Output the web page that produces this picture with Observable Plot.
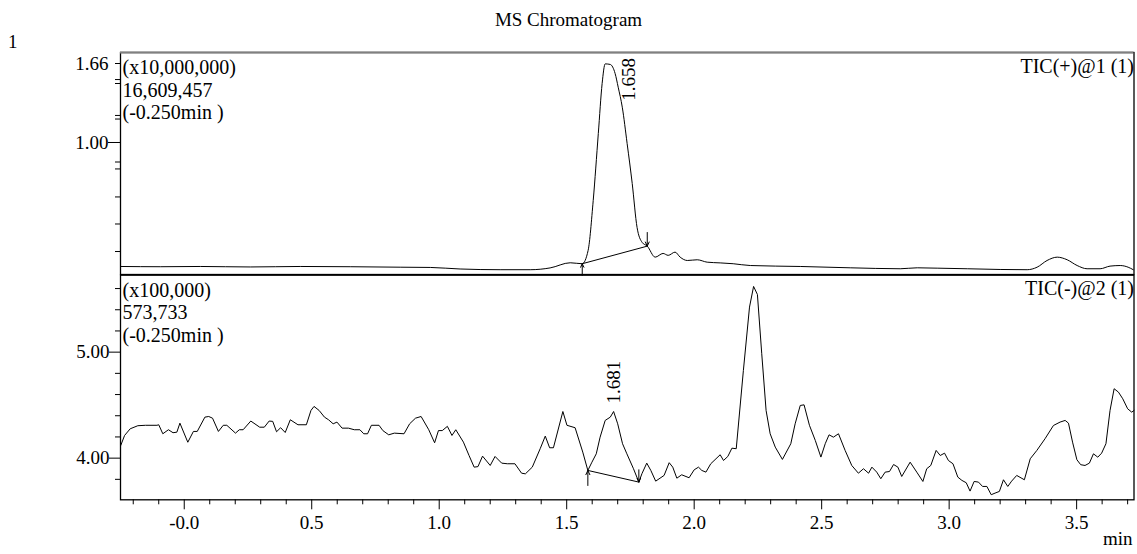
<!DOCTYPE html>
<html><head><meta charset="utf-8">
<script src="https://cdn.jsdelivr.net/npm/d3@7"></script>
<script src="https://cdn.jsdelivr.net/npm/@observablehq/plot@0.6"></script>
<style>
body{margin:0;background:#fff;}
#wrap{position:relative;width:1137px;height:554px;font-family:"Liberation Serif","Times New Roman",serif;color:#000;overflow:hidden;}
.abs{position:absolute;line-height:1;white-space:nowrap;}
.panel{position:absolute;left:0;width:1137px;height:280px;}
.panel > svg{position:absolute;left:0;top:0;}
</style></head><body>
<div id="wrap">
  <div class="panel" id="top" style="top:0;"></div>
  <div class="panel" id="bot" style="top:274px;"></div>
  <div class="abs" style="left:0;width:1137px;top:10px;text-align:center;font-size:19px;">MS Chromatogram</div>
  <div class="abs" style="left:8px;top:32px;font-size:19px;">1</div>
  <div class="abs" style="left:1103px;top:529px;font-size:19px;">min</div>
</div>
<script>
// ---------- data ----------
const xDomain = [-0.25, 3.725];
const topDomain = [-0.103, 1.752];
const bottomDomain = [3.607, 5.726];

const topTime = [-0.25,-0.094,0.063,0.259,0.455,0.651,0.847,0.965,1.082,1.239,1.357,1.435,1.514,1.561,1.584,1.604,1.624,1.639,1.651,1.671,1.69,1.702,1.718,1.737,1.757,1.776,1.796,1.816,1.847,1.878,1.898,1.925,1.945,1.973,2.012,2.051,2.102,2.153,2.22,2.416,2.612,2.808,2.875,2.953,3.071,3.2,3.306,3.345,3.384,3.424,3.463,3.502,3.541,3.592,3.631,3.671,3.702,3.722];
const topInt = [-0.036,-0.038,-0.036,-0.040,-0.036,-0.038,-0.042,-0.044,-0.057,-0.063,-0.063,-0.048,-0.005,-0.013,0.098,0.515,1.075,1.493,1.657,1.652,1.576,1.462,1.295,0.992,0.657,0.290,0.165,0.134,0.042,0.073,0.057,0.084,0.042,0.014,0.020,0.0,-0.006,-0.013,-0.028,-0.036,-0.047,-0.055,-0.047,-0.050,-0.055,-0.061,-0.063,-0.042,0.014,0.042,0.020,-0.028,-0.055,-0.055,-0.033,-0.028,-0.042,-0.063];

const bottomTime = [-0.249,-0.234,-0.212,-0.182,-0.152,-0.107,-0.1,-0.084,-0.062,-0.044,-0.029,-0.017,0.014,0.036,0.051,0.081,0.096,0.111,0.134,0.153,0.167,0.201,0.216,0.231,0.261,0.296,0.314,0.333,0.347,0.362,0.378,0.396,0.416,0.446,0.479,0.497,0.509,0.529,0.55,0.566,0.584,0.599,0.619,0.644,0.667,0.689,0.704,0.719,0.734,0.764,0.779,0.802,0.824,0.862,0.884,0.907,0.929,0.959,0.982,0.997,1.012,1.032,1.05,1.065,1.095,1.117,1.137,1.152,1.17,1.2,1.219,1.245,1.267,1.297,1.323,1.338,1.365,1.396,1.416,1.433,1.448,1.485,1.501,1.533,1.563,1.583,1.599,1.616,1.631,1.651,1.671,1.684,1.7,1.719,1.736,1.762,1.783,1.795,1.814,1.83,1.849,1.882,1.902,1.916,1.932,1.951,1.98,2.0,2.017,2.03,2.046,2.065,2.102,2.115,2.132,2.148,2.165,2.193,2.217,2.233,2.248,2.265,2.282,2.298,2.318,2.346,2.379,2.396,2.416,2.431,2.452,2.475,2.497,2.514,2.529,2.546,2.566,2.592,2.618,2.644,2.664,2.684,2.697,2.716,2.732,2.749,2.766,2.782,2.799,2.814,2.847,2.873,2.897,2.912,2.928,2.949,2.965,2.982,2.997,3.015,3.034,3.05,3.067,3.082,3.098,3.115,3.131,3.148,3.165,3.18,3.197,3.213,3.23,3.245,3.265,3.295,3.318,3.344,3.376,3.409,3.435,3.455,3.468,3.484,3.501,3.516,3.533,3.55,3.566,3.583,3.598,3.615,3.631,3.647,3.664,3.681,3.7,3.716,3.725];
const bottomInt = [4.12,4.214,4.277,4.306,4.31,4.31,4.315,4.23,4.268,4.24,4.245,4.33,4.15,4.252,4.252,4.387,4.393,4.377,4.252,4.31,4.31,4.236,4.268,4.268,4.35,4.292,4.292,4.35,4.347,4.249,4.287,4.242,4.362,4.315,4.315,4.45,4.488,4.45,4.387,4.362,4.324,4.34,4.283,4.283,4.268,4.268,4.23,4.23,4.31,4.31,4.26,4.22,4.236,4.23,4.324,4.377,4.393,4.268,4.145,4.26,4.26,4.3,4.214,4.268,4.151,4.025,3.915,3.92,4.019,3.931,4.016,3.953,3.947,3.947,3.858,3.852,3.915,4.089,4.208,4.098,4.098,4.44,4.31,4.287,4.057,3.884,3.962,4.041,4.198,4.356,4.387,4.44,4.324,4.136,4.041,3.9,3.774,3.853,3.953,3.884,3.783,3.837,3.957,3.915,3.811,3.843,3.815,3.89,3.915,3.884,3.868,3.947,4.032,3.978,4.016,4.094,4.089,4.827,5.425,5.62,5.544,4.985,4.45,4.23,4.104,3.988,4.136,4.324,4.497,4.503,4.31,4.167,4.01,4.136,4.22,4.198,4.23,4.073,3.931,3.858,3.9,3.858,3.915,3.868,3.806,3.868,3.874,3.94,3.915,3.827,3.962,3.868,3.78,3.9,3.931,4.073,4.025,4.047,3.978,3.947,3.821,3.79,3.768,3.689,3.78,3.774,3.733,3.733,3.655,3.67,3.686,3.796,3.733,3.783,3.837,3.796,3.994,4.073,4.183,4.308,4.34,4.356,4.33,4.151,3.985,3.938,3.931,3.953,4.041,4.009,4.047,4.136,4.45,4.655,4.623,4.56,4.466,4.434,4.45];

// peak integration (start / end) and labels
const topPeakBaseTime = [1.561, 1.816];
const topPeakBaseInt = [-0.013, 0.134];
const topArrowTail = [-0.11, 0.248];
const topPeakTime = [1.658], topPeakApex = [1.657], topPeakLabel = ["1.658"];

const bottomPeakBaseTime = [1.583, 1.783];
const bottomPeakBaseInt = [3.884, 3.774];
const bottomArrowTail = [3.742, 3.89];
const bottomPeakTime = [1.681], bottomPeakApex = [4.44], bottomPeakLabel = ["1.681"];

// axis ticks and labels
const topMinorTicks = [1.66, 1.526, 1.493, 1.226, 1.196, 0.837, 0.779, 0.545, 0.319, 0.089];
const topMajorTicks = [1.00];
const topTickLabels = [1.66, 1.00];
const bottomMinorTicks = [3.8, 4.2, 4.4, 4.6, 4.8, 5.2, 5.4, 5.6];
const bottomMajorTicks = [4.00, 5.00];
const xMinorTicks = [-0.2,-0.1,0.1,0.2,0.3,0.4,0.6,0.7,0.8,0.9,1.1,1.2,1.3,1.4,1.6,1.7,1.8,1.9,2.1,2.2,2.3,2.4,2.6,2.7,2.8,2.9,3.1,3.2,3.3,3.4,3.6,3.7];
const xMajorTicks = [0, 0.5, 1.0, 1.5, 2.0, 2.5, 3.0, 3.5];
const xTickLabels = ["-0.0","0.5","1.0","1.5","2.0","2.5","3.0","3.5"];

const topNotes = ["(x10,000,000)", "16,609,457", "(-0.250min )"];
const topTrace = "TIC(+)@1 (1)";
const bottomNotes = ["(x100,000)", "573,733", "(-0.250min )"];
const bottomTrace = "TIC(-)@2 (1)";

// ---------- build ----------
const rows = (xs, ys) => xs.map((x, i) => ({x, y: ys[i]}));
const f2 = d3.format(".2f");
const blank = () => "";
const svgStyle = {fontFamily: "'Liberation Serif','Times New Roman',serif", fontSize: "19px", background: "transparent", overflow: "visible", color: "#000"};

const topGeom = {width: 1137, height: 280, marginLeft: 120, marginRight: 3.5, marginTop: 52, marginBottom: 6};
const botGeom = {width: 1137, height: 280, marginLeft: 120, marginRight: 3.5, marginTop: 0.7, marginBottom: 54.7};

function arrows(times, heads, tails) {
  return times.map((t, i) => ({x: t, y1: tails[i], y2: heads[i]}));
}

function layer(el, geom, xOpt, yOpt, marks) {
  const svg = Plot.plot({...geom, style: svgStyle, x: {domain: xDomain, label: null, ...xOpt}, y: {label: null, ...yOpt}, marks});
  document.getElementById(el).appendChild(svg);
}

// ----- top panel -----
const topRows = rows(topTime, topInt);
const ghostTop = Plot.line(topRows, {x: "x", y: "y", strokeOpacity: 0});
layer("top", topGeom, {axis: null}, {domain: topDomain, ticks: topMinorTicks, tickSize: 5, tickFormat: blank}, [ghostTop]);
layer("top", topGeom, {axis: null}, {domain: topDomain, ticks: topMajorTicks, tickSize: 12, tickFormat: blank}, [ghostTop]);
layer("top", topGeom, {axis: null}, {domain: topDomain, ticks: topTickLabels, tickSize: 0, tickPadding: 12, tickFormat: f2}, [
  Plot.frame({stroke: "#000", strokeWidth: 1.3}),
  Plot.ruleY([topDomain[1]], {stroke: "#808080", strokeWidth: 2}),
  Plot.line(topRows, {x: "x", y: "y", stroke: "#000", strokeWidth: 1, curve: "monotone-x"}),
  Plot.line(rows(topPeakBaseTime, topPeakBaseInt), {x: "x", y: "y", stroke: "#000", strokeWidth: 1}),
  Plot.arrow(arrows(topPeakBaseTime, topPeakBaseInt, topArrowTail), {x1: "x", x2: "x", y1: "y1", y2: "y2", stroke: "#000", strokeWidth: 1, headLength: 7, headAngle: 50}),
  Plot.text(rows(topPeakTime, topPeakApex).map((d, i) => ({...d, t: topPeakLabel[i]})), {x: "x", y: "y", text: "t", rotate: -90, textAnchor: "start", lineAnchor: "middle", dx: 22, dy: 37, fontSize: 19, fill: "#000"}),
  Plot.text([topNotes.join("\n")], {frameAnchor: "top-left", textAnchor: "start", lineAnchor: "top", dx: 2, dy: 6, fontSize: 20, lineHeight: 1.115, fill: "#000"}),
  Plot.text([topTrace], {frameAnchor: "top-right", textAnchor: "end", lineAnchor: "top", dx: 0, dy: 6, fontSize: 20, fill: "#000"})
]);

// ----- bottom panel -----
const botRows = rows(bottomTime, bottomInt);
const ghostBot = Plot.line(botRows, {x: "x", y: "y", strokeOpacity: 0});
layer("bot", botGeom, {ticks: xMinorTicks, tickSize: 5, tickFormat: blank}, {domain: bottomDomain, ticks: bottomMinorTicks, tickSize: 5, tickFormat: blank}, [ghostBot]);
layer("bot", botGeom, {ticks: xMajorTicks, tickSize: 10, tickPadding: 5.5, tickFormat: d => xTickLabels[xMajorTicks.indexOf(d)]}, {domain: bottomDomain, ticks: bottomMajorTicks, tickSize: 11, tickPadding: 0, tickFormat: f2}, [
  Plot.frame({stroke: "#000", strokeWidth: 1.3}),
  Plot.line(botRows, {x: "x", y: "y", stroke: "#000", strokeWidth: 1}),
  Plot.line(rows(bottomPeakBaseTime, bottomPeakBaseInt), {x: "x", y: "y", stroke: "#000", strokeWidth: 1}),
  Plot.arrow(arrows(bottomPeakBaseTime, bottomPeakBaseInt, bottomArrowTail), {x1: "x", x2: "x", y1: "y1", y2: "y2", stroke: "#000", strokeWidth: 1, headLength: 7, headAngle: 50}),
  Plot.text(rows(bottomPeakTime, bottomPeakApex).map((d, i) => ({...d, t: bottomPeakLabel[i]})), {x: "x", y: "y", text: "t", rotate: -90, textAnchor: "start", lineAnchor: "middle", dx: 1, dy: -8, fontSize: 19, fill: "#000"}),
  Plot.text([bottomNotes.join("\n")], {frameAnchor: "top-left", textAnchor: "start", lineAnchor: "top", dx: 2, dy: 6, fontSize: 20, lineHeight: 1.115, fill: "#000"}),
  Plot.text([bottomTrace], {frameAnchor: "top-right", textAnchor: "end", lineAnchor: "top", dx: 0, dy: 6, fontSize: 20, fill: "#000"})
]);
</script>
</body></html>
